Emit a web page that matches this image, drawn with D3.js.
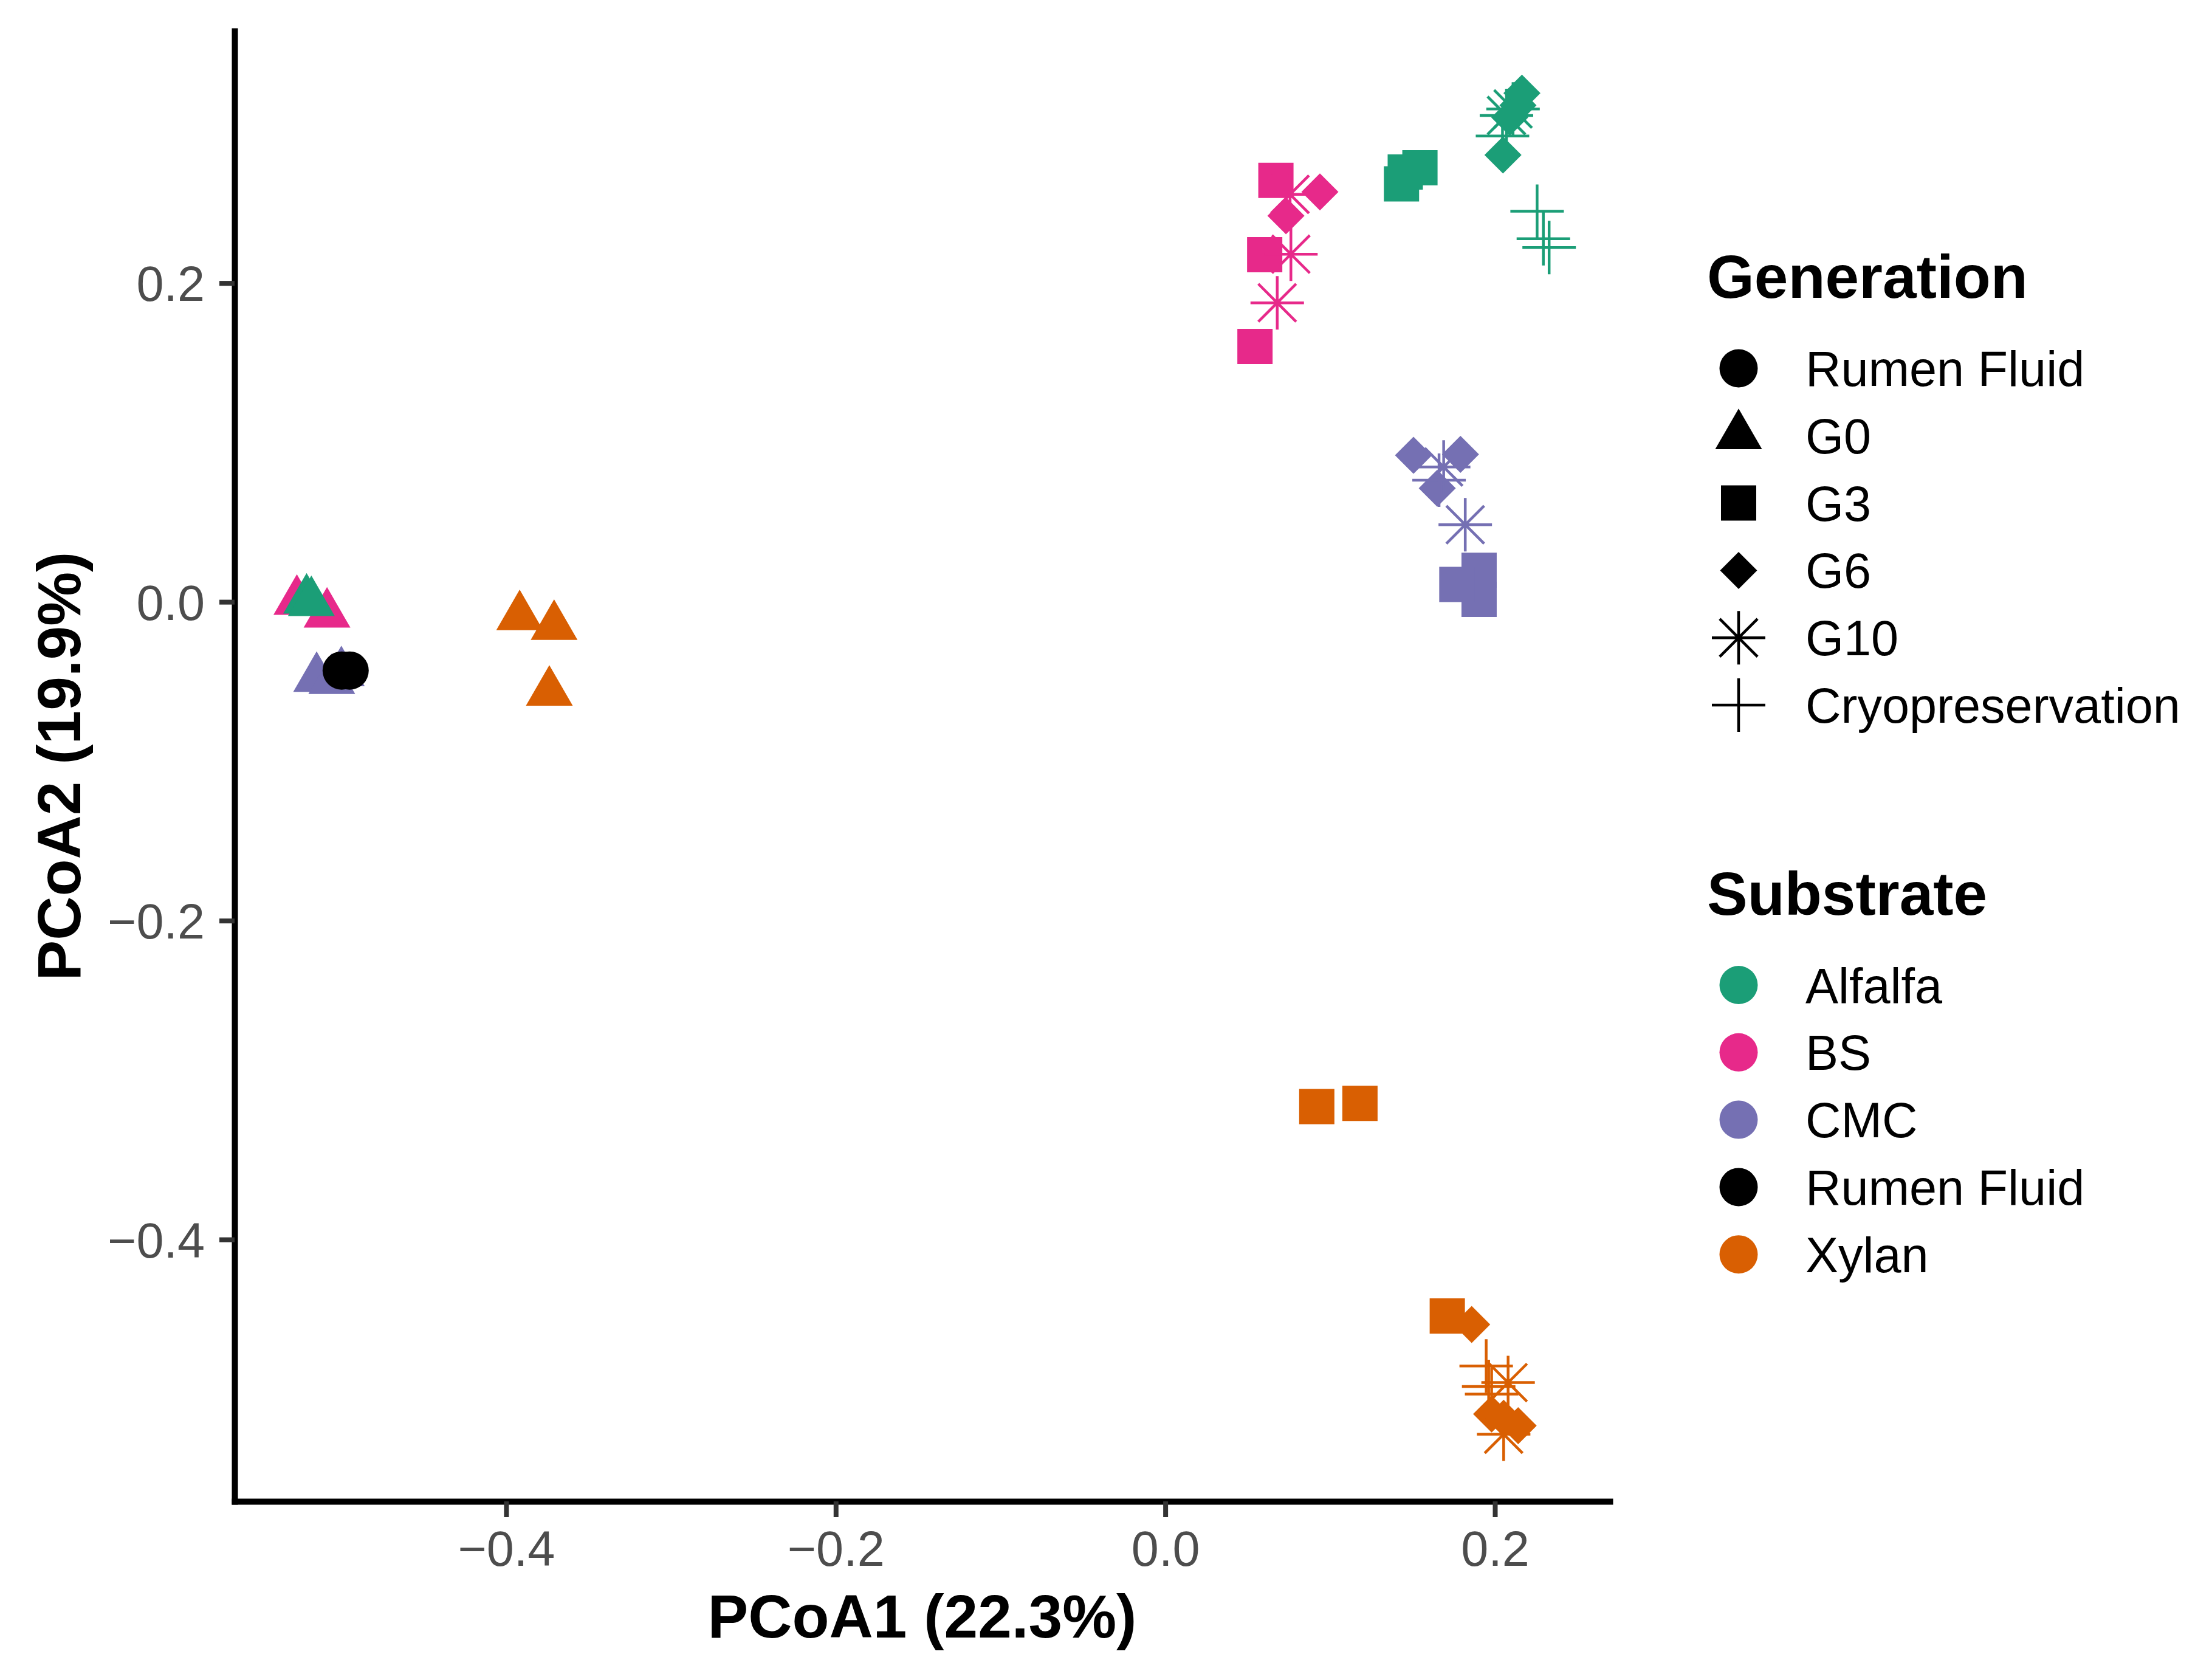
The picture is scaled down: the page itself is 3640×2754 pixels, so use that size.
<!DOCTYPE html>
<html>
<head>
<meta charset="utf-8">
<script src="https://cdn.jsdelivr.net/npm/d3@7"></script>
<style>
  body { margin: 0; background: #fff; }
  text { font-family: "Liberation Sans", Arial, Helvetica, sans-serif; }
</style>
</head>
<body>
<svg id="chart" width="3640" height="2754"></svg>
<script>
// categories
var substrates = ["Alfalfa", "BS", "CMC", "Rumen Fluid", "Xylan"];
var substrateColors = ["#1B9E77", "#E7298A", "#7570B3", "#000000", "#D95F02"];
var generations = ["Rumen Fluid", "G0", "G3", "G6", "G10", "Cryopreservation"];

// tick values
var xTicks = [-0.4, -0.2, 0.0, 0.2];
var yTicks = [0.2, 0.0, -0.2, -0.4];

// samples per substrate: [generation, PCoA1, PCoA2]
var bsPoints = [
    ["G0", -0.527, 0.0003], ["G0", -0.5087, -0.0077],
    ["G3", 0.0544, 0.1602], ["G3", 0.0603, 0.2178], ["G3", 0.0671, 0.2644],
    ["G10", 0.0757, 0.2556], ["G10", 0.0762, 0.2181], ["G10", 0.0679, 0.1876],
    ["G6", 0.0938, 0.2571], ["G6", 0.0732, 0.2422]
];
var alfalfaPoints = [
    ["G0", -0.5211, 0.0011], ["G0", -0.5182, -0.0004],
    ["G3", 0.1545, 0.2723], ["G3", 0.1433, 0.2622], ["G3", 0.1456, 0.2696],
    ["G10", 0.2110, 0.3092], ["G10", 0.2070, 0.3051],
    ["Cryopreservation", 0.2046, 0.2922], ["Cryopreservation", 0.2256, 0.2450],
    ["Cryopreservation", 0.2294, 0.2278], ["Cryopreservation", 0.2329, 0.2223],
    ["G6", 0.2049, 0.2803], ["G6", 0.2164, 0.3191], ["G6", 0.2140, 0.3115], ["G6", 0.2090, 0.3039]
];
var cmcPoints = [
    ["G0", -0.5150, -0.0480], ["G0", -0.5000, -0.0445], ["G0", -0.5058, -0.0493],
    ["G3", 0.1904, 0.0198], ["G3", 0.1904, 0.0016], ["G3", 0.1769, 0.0109],
    ["G6", 0.1506, 0.0919], ["G6", 0.1791, 0.0925], ["G6", 0.1650, 0.0713],
    ["G10", 0.1820, 0.0484], ["G10", 0.1689, 0.0846],
    ["Cryopreservation", 0.1661, 0.0763]
];
var rumenPoints = [
    ["Rumen Fluid", -0.4998, -0.0431], ["Rumen Fluid", -0.4950, -0.0431]
];
var xylanPoints = [
    ["G0", -0.3918, -0.0093], ["G0", -0.3709, -0.0154], ["G0", -0.3738, -0.0567],
    ["G3", 0.0919, -0.3166], ["G3", 0.1181, -0.3146], ["G3", 0.1711, -0.4480],
    ["Cryopreservation", 0.1947, -0.4794], ["Cryopreservation", 0.1962, -0.4922],
    ["Cryopreservation", 0.1980, -0.4970],
    ["G10", 0.2080, -0.4898], ["G10", 0.2053, -0.5222],
    ["G6", 0.1859, -0.4533], ["G6", 0.1980, -0.5095], ["G6", 0.2141, -0.5168], ["G6", 0.2053, -0.5122]
];

var groups = [
    ["BS", bsPoints], ["Alfalfa", alfalfaPoints], ["CMC", cmcPoints],
    ["Rumen Fluid", rumenPoints], ["Xylan", xylanPoints]
];
var samples = [];
groups.forEach(function (g) {
    g[1].forEach(function (p) {
        samples.push({substrate: g[0], generation: p[0], x: p[1], y: p[2]});
    });
});

// panel geometry
var panel = {left: 386, right: 2649, top: 51, bottom: 2470};

var x = d3.scaleLinear().domain([-0.5648, 0.2697]).range([panel.left, panel.right]);
var y = d3.scaleLinear().domain([-0.5643, 0.3581]).range([panel.bottom, panel.top]);

var color = d3.scaleOrdinal().domain(substrates).range(substrateColors);

// R-style point shapes, drawn through d3.symbol with custom types
var symbolTypes = {
    "Rumen Fluid": {draw: function (c, r) { c.moveTo(r, 0); c.arc(0, 0, r, 0, 2 * Math.PI); }},
    "G0": {draw: function (c, s) {
        var r = 1.5551 * s, xc = 1.3468 * s, yc = 0.7776 * s;
        c.moveTo(0, -r); c.lineTo(xc, yc); c.lineTo(-xc, yc); c.closePath();
    }},
    "G3": {draw: function (c, h) { c.rect(-h, -h, 2 * h, 2 * h); }},
    "G6": {draw: function (c, h) {
        c.moveTo(0, -h); c.lineTo(h, 0); c.lineTo(0, h); c.lineTo(-h, 0); c.closePath();
    }},
    "G10": {draw: function (c, h) {
        var d = h / Math.SQRT2;
        c.moveTo(-h, 0); c.lineTo(h, 0); c.moveTo(0, -h); c.lineTo(0, h);
        c.moveTo(-d, -d); c.lineTo(d, d); c.moveTo(-d, d); c.lineTo(d, -d);
    }},
    "Cryopreservation": {draw: function (c, h) {
        c.moveTo(-h, 0); c.lineTo(h, 0); c.moveTo(0, -h); c.lineTo(0, h);
    }}
};
var symbolSize = {"Rumen Fluid": 31.5, "G0": 28.6, "G3": 29, "G6": 30.5, "G10": 44, "Cryopreservation": 44};
var isLine = function (g) { return g === "G10" || g === "Cryopreservation"; };

function shapePath(gen) {
    return d3.symbol().type(symbolTypes[gen]).size(symbolSize[gen])();
}

function styleMark(sel, col, gen) {
    if (isLine(gen)) {
        sel.attr("fill", "none").attr("stroke", col).attr("stroke-width", 4.5);
    } else {
        sel.attr("fill", col).attr("stroke", "none");
    }
}

var svg = d3.select("#chart");
svg.append("rect").attr("width", 3640).attr("height", 2754).attr("fill", "#fff");

// points
svg.append("g").attr("class", "points")
    .selectAll("path")
    .data(samples)
    .join("path")
    .attr("d", function (d) { return shapePath(d.generation); })
    .attr("transform", function (d) { return "translate(" + x(d.x) + "," + y(d.y) + ")"; })
    .each(function (d) { styleMark(d3.select(this), color(d.substrate), d.generation); });

// axes
var axisBottom = d3.axisBottom(x).tickValues(xTicks).tickFormat(d3.format(".1f"))
    .tickSize(26).tickSizeOuter(0);
var axisLeft = d3.axisLeft(y).tickValues(yTicks).tickFormat(d3.format(".1f"))
    .tickSize(25).tickSizeOuter(0);

var gx = svg.append("g").attr("class", "axis axis-bottom")
    .attr("transform", "translate(0," + panel.bottom + ")")
    .call(axisBottom);
var gy = svg.append("g").attr("class", "axis axis-left")
    .attr("transform", "translate(" + panel.left + ",0)")
    .call(axisLeft);

[gx, gy].forEach(function (g) {
    g.select(".domain").attr("stroke", "#000").attr("stroke-width", 10).attr("stroke-linecap", "square");
    g.selectAll(".tick line").attr("stroke", "#333").attr("stroke-width", 8);
    g.selectAll(".tick text").attr("fill", "#4D4D4D").attr("font-size", 81)
        .attr("font-family", "Liberation Sans, Arial, sans-serif");
});
gx.selectAll(".tick text").attr("y", 106).attr("dy", 0);
gy.selectAll(".tick text").attr("x", -49).attr("dy", 29);

// axis titles
svg.append("text")
    .attr("x", (panel.left + panel.right) / 2).attr("y", 2694)
    .attr("text-anchor", "middle").attr("font-weight", "bold").attr("font-size", 100)
    .text("PCoA1 (22.3%)");
svg.append("text")
    .attr("transform", "translate(132," + (panel.top + panel.bottom) / 2 + ") rotate(-90)")
    .attr("text-anchor", "middle").attr("font-weight", "bold").attr("font-size", 100)
    .text("PCoA2 (19.9%)");

// legends
var legendKeyX = 2861, legendLabelX = 2971, legendTitleX = 2809, rowStep = 110.8;

var genLegend = svg.append("g").attr("class", "legend-generation");
genLegend.append("text").attr("x", legendTitleX).attr("y", 490)
    .attr("font-weight", "bold").attr("font-size", 100).text("Generation");
generations.forEach(function (gen, i) {
    var cy = 606 + i * rowStep;
    genLegend.append("path").attr("d", shapePath(gen))
        .attr("transform", "translate(" + legendKeyX + "," + cy + ")")
        .call(styleMark, "#000", gen);
    genLegend.append("text").attr("x", legendLabelX).attr("y", cy + 29)
        .attr("font-size", 81).text(gen);
});

var subLegend = svg.append("g").attr("class", "legend-substrate");
subLegend.append("text").attr("x", legendTitleX).attr("y", 1505)
    .attr("font-weight", "bold").attr("font-size", 100).text("Substrate");
substrates.forEach(function (s, i) {
    var cy = 1620.5 + i * rowStep;
    subLegend.append("path").attr("d", shapePath("Rumen Fluid"))
        .attr("transform", "translate(" + legendKeyX + "," + cy + ")")
        .attr("fill", color(s));
    subLegend.append("text").attr("x", legendLabelX).attr("y", cy + 29)
        .attr("font-size", 81).text(s);
});
</script>
</body>
</html>
